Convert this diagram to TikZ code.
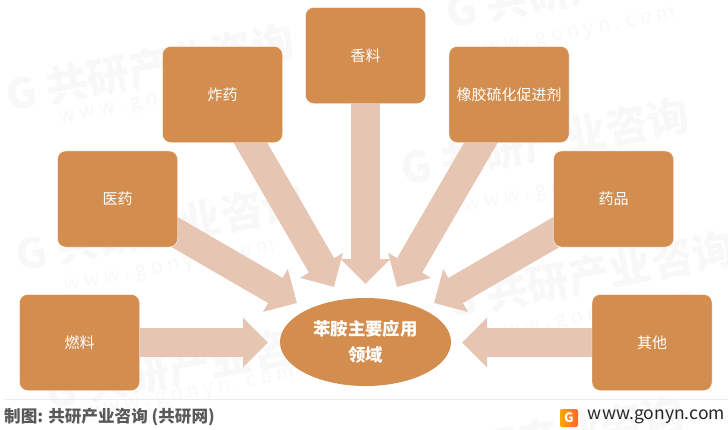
\documentclass[tikz,border=0pt]{standalone}
\usepackage{fontspec}
\setmainfont{Noto Sans CJK SC}
\usetikzlibrary{arrows.meta,backgrounds,shapes.geometric}
\definecolor{boxcol}{HTML}{D38D4F}
\definecolor{arrowcol}{HTML}{E6C5B2}
\definecolor{markcol}{HTML}{F8F8F8}
\tikzset{
  itembox/.style={draw=white, fill=boxcol, rounded corners=8pt, minimum width=120pt, minimum height=96pt, text=white, font=\fontsize{15}{18}\selectfont, inner sep=0pt},
  flowarrow/.style={draw=arrowcol, line width=29pt, -{Triangle[width=48pt,length=25pt]}},
  markword/.style={text=markcol, rotate=11, font=\fontsize{42}{46}\bfseries\selectfont},
  markurl/.style={text=markcol, rotate=11, font=\fontsize{20}{22}\selectfont}
}
\begin{document}
\begin{tikzpicture}[x=1pt,y=-1pt]
\useasboundingbox (0,0) rectangle (728,429);
\node[itembox] (fuel) at (79.5,342.5){燃料};
\node[itembox] (medi) at (117.5,199){医药};
\node[itembox] (expl) at (222.5,94.5){炸药};
\node[itembox] (spic) at (365.5,55.5){香料};
\node[itembox] (rubb) at (509,94.5){橡胶硫化促进剂};
\node[itembox] (drug) at (613.5,199){药品};
\node[itembox] (othr) at (652,342.5){其他};
\node[ellipse, fill=boxcol, minimum width=171pt, minimum height=88pt, inner sep=0pt, align=center, text=white, font=\fontsize{17.4}{26}\bfseries\selectfont] (anil) at (365.5,342){苯胺主要应用\\领域};
\coordinate (t0) at (268,342.5);
\coordinate (t1) at (297,303);
\coordinate (t2) at (334,287);
\coordinate (t3) at (365.5,284);
\coordinate (t4) at (397,287);
\coordinate (t5) at (434,303);
\coordinate (t6) at (462,342.5);
\begin{scope}[on background layer]
\node[markword] (mk0) at (150,68){G 共研产业咨询};
\node[markurl] (mu0) at (165,100){w w w . g o n y n . c o m};
\node[markword] (mk1) at (590,-15){G 共研产业咨询};
\node[markurl] (mu1) at (570,35){w w w . g o n y n . c o m};
\node[markword] (mk2) at (545,142){G 共研产业咨询};
\node[markurl] (mu2) at (570,188){w w w . g o n y n . c o m};
\node[markword] (mk3) at (160,228){G 共研产业咨询};
\node[markurl] (mu3) at (170,268){w w w . g o n y n . c o m};
\node[markword] (mk4) at (190,366){G 共研产业咨询};
\node[markurl] (mu4) at (190,395){w w w . g o n y n . c o m};
\node[markword] (mk5) at (590,275){G 共研产业咨询};
\node[markurl] (mu5) at (590,318){w w w . g o n y n . c o m};
\node[markword] (mk6) at (540,440){G 共研产业咨询};
\draw[flowarrow](fuel) -- (t0);
\draw[flowarrow](medi.center) -- (t1);
\draw[flowarrow](expl.center) -- (t2);
\draw[flowarrow](spic.center) -- (t3);
\draw[flowarrow](rubb.center) -- (t4);
\draw[flowarrow](drug.center) -- (t5);
\draw[flowarrow](othr) -- (t6);
\end{scope}
\coordinate (r0) at (5,399);
\coordinate (r1) at (728,399);
\draw[black!8](r0) -- (r1);
\node[anchor=west, inner sep=0pt, text=black!65, font=\fontsize{16.6}{18}\bfseries\selectfont] (credit) at (4,417){制图: 共研产业咨询 (共研网)};
\node[anchor=east, inner sep=0pt, text=black!85, font=\fontsize{17.5}{20}\selectfont] (site) at (725,417){www.gonyn.com};
\node[left color=orange!70!yellow, right color=red!50!orange!80, rounded corners=2pt, minimum width=18pt, minimum height=18pt, inner sep=0pt, text=white, font=\fontsize{13}{14}\bfseries\selectfont] (logo) at (569,418){G};
\end{tikzpicture}
\end{document}
